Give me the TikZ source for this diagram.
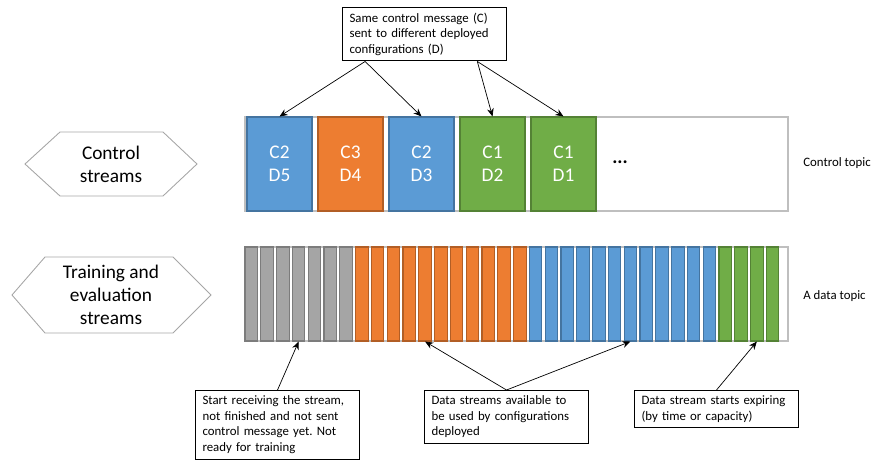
\documentclass[tikz,border=0pt]{standalone}
\usepackage{fontspec}
\setmainfont{Carlito}
\usetikzlibrary{arrows.meta,calc,positioning}
\tikzset{>={Stealth[length=4.6pt,width=3.8pt]}}
\definecolor{msgblue}{HTML}{5B9BD5}
\definecolor{msgorange}{HTML}{ED7D31}
\definecolor{msggreen}{HTML}{70AD47}
\definecolor{msggray}{HTML}{A5A5A5}
\tikzset{
  smalltext/.style={font=\fontsize{7.3}{8.9}\selectfont},
  bigtext/.style={font=\fontsize{11}{13}\selectfont},
  note/.style={draw=black, line width=0.6pt, fill=white, smalltext, align=left,
    text width=3.0cm, inner xsep=0.14cm, inner ysep=3pt, anchor=north west},
  ctrlmsg/.style={minimum width=1.3cm, minimum height=1.88cm, inner sep=0pt,
    text=white, bigtext, align=center, line width=0.6pt},
  bar/.style={minimum width=0.25cm, minimum height=1.88cm, inner sep=0pt, line width=0.6pt},
  topicline/.style={draw=black!25, line width=0.6pt},
  hexline/.style={draw=black!35, line width=0.5pt},
}

\begin{document}
\frenchspacing
\begin{tikzpicture}[x=0.02cm,y=-0.02cm]
\useasboundingbox (0,0) rectangle (872,464);

% stream names
\draw[hexline] (25,164) -- (60,132) -- (163,132) -- (197,164) -- (163,196) -- (60,196) -- cycle;
\node[bigtext, align=center] (ctrlstreams) at (111,164) {Control\\streams};
\draw[hexline] (12,295) -- (45,257) -- (173,257) -- (211,295) -- (173,333) -- (45,333) -- cycle;
\node[bigtext, align=center] (trainstreams) at (111,295) {Training and\\evaluation\\streams};

% control topic
\draw[topicline] (245,117) rectangle (788,211);
\foreach \k/\cid/\did/\col in {0/C2/D5/msgblue, 1/C3/D4/msgorange, 2/C2/D3/msgblue,
                               3/C1/D2/msggreen, 4/C1/D1/msggreen}
  \node[ctrlmsg, fill=\col, draw=\col!75!black] (\did) at ({279.5+71*\k},164) {\cid\\\did};
\node[bigtext, font=\fontsize{11}{13}\selectfont\bfseries] (more) at (620,162) {...};
\node[smalltext, anchor=west, inner sep=0pt] (ctrllabel) at (803,163) {Control topic};

% data topic
\draw[topicline] (245,247) rectangle (788,341);
\foreach \first/\last/\col in {1/7/msggray, 8/18/msgorange, 19/30/msgblue, 31/34/msggreen}
  \foreach \i in {\first,...,\last}
    \node[bar, fill=\col, draw=\col!75!black] (bar\i) at ({251.25+(\i-1)*15.8},294) {};
\node[smalltext, anchor=west, inner sep=0pt] (datalabel) at (803,296) {A data topic};

% notes
\node[note] (msgnote) at (342,7) {Same control message (C)\\sent to different deployed\\configurations (D)};
\draw[->] ($(msgnote.south west)!0.14!(msgnote.south east)$) -- (D5.north);
\draw[->] ($(msgnote.south west)!0.14!(msgnote.south east)$) -- (D3.north);
\draw[->] ($(msgnote.south west)!0.82!(msgnote.south east)$) -- (D2.north);
\draw[->] ($(msgnote.south west)!0.82!(msgnote.south east)$) -- (D1.north);

\node[note] (startnote) at (195,390) {Start receiving the stream,\\not finished and not sent\\control message yet. Not\\ready for training};
\node[note] (availnote) at (424,390) {Data streams available to\\be used by configurations\\deployed};
\node[note] (expirenote) at (634,390) {Data stream starts expiring\\(by time or capacity)};
\draw[->] (startnote.north) -- (bar4.south);
\draw[->] (availnote.north) -- (bar12.south);
\draw[->] (availnote.north) -- (bar25.south);
\draw[->] (expirenote.north) -- (bar33.south);
\end{tikzpicture}
\end{document}
